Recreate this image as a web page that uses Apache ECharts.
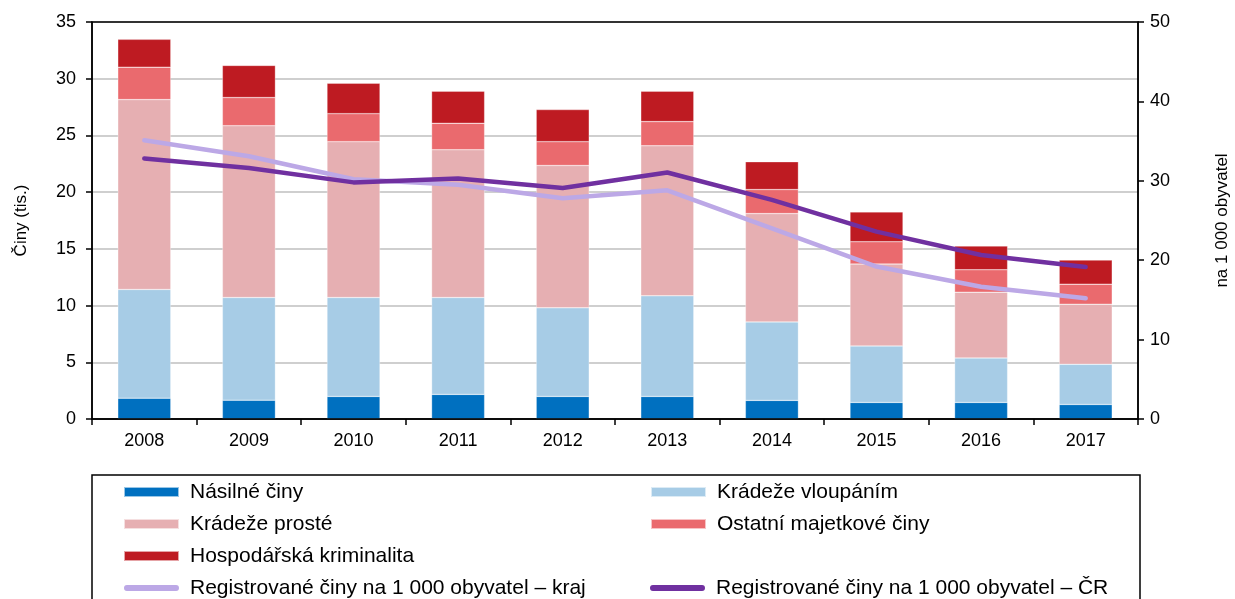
<!DOCTYPE html>
<html>
<head>
<meta charset="utf-8">
<script src="https://cdn.jsdelivr.net/npm/echarts@6/dist/echarts.min.js"></script>
<style>
  html, body { margin: 0; padding: 0; background: #fff; }
  #chart { width: 1235px; height: 599px; }
</style>
</head>
<body>
<div id="chart"></div>
<script>
var years = ['2008', '2009', '2010', '2011', '2012', '2013', '2014', '2015', '2016', '2017'];
// tis. činů
var nasilne = [1.84, 1.66, 1.99, 2.17, 1.99, 1.99, 1.64, 1.46, 1.46, 1.28];
var vloupani = [9.58, 9.05, 8.72, 8.54, 7.81, 8.87, 6.92, 4.98, 3.92, 3.54];
var proste = [16.74, 15.15, 13.74, 13.03, 12.55, 13.23, 9.55, 7.22, 5.80, 5.30];
var ostatni = [2.86, 2.48, 2.47, 2.33, 2.10, 2.13, 2.12, 1.97, 1.98, 1.77];
var hospodarska = [2.45, 2.83, 2.68, 2.83, 2.83, 2.68, 2.45, 2.63, 2.09, 2.12];
// na 1 000 obyvatel
var naObyvKraj = [35.1, 33.1, 30.2, 29.5, 27.8, 28.8, 24.0, 19.2, 16.65, 15.2];
var naObyvCR = [32.8, 31.6, 29.8, 30.3, 29.1, 31.05, 27.6, 23.6, 20.65, 19.14];

var font = 'Liberation Sans, Arial, sans-serif';
var lineIcon = 'path://M3,0 h50 a3,3 0 0 1 0,6 h-50 a3,3 0 0 1 0,-6 Z';

function barSeries(name, data, color) {
  return {
    name: name,
    type: 'bar',
    stack: 'cin',
    data: data,
    barWidth: 53,
    itemStyle: { color: color, borderColor: 'rgba(255,255,255,0.6)', borderWidth: 0.5 }
  };
}

function lineSeries(name, data, color) {
  return {
    name: name,
    type: 'line',
    yAxisIndex: 1,
    data: data,
    symbol: 'none',
    lineStyle: { color: color, width: 4.5, cap: 'round', join: 'round' },
    itemStyle: { color: color },
    z: 5
  };
}

var legendBase = {
  orient: 'vertical',
  icon: 'rect',
  itemWidth: 55,
  itemHeight: 10,
  itemGap: 10,
  selectedMode: false,
  textStyle: { fontFamily: font, fontSize: 21, color: '#000', lineHeight: 22, padding: [0, 0, 0, 6] },
  padding: 0
};

var myChart = echarts.init(document.getElementById('chart'));
var option = {
  animation: false,
  textStyle: { fontFamily: font },
  grid: {
    left: 92, right: 97, top: 22, bottom: 180,
    outerBoundsMode: 'none',
    containLabel: false
  },
  legend: [
    Object.assign({}, legendBase, {
      left: 123, top: 481,
      data: ['Násilné činy', 'Krádeže prosté', 'Hospodářská kriminalita',
        { name: 'Registrované činy na 1 000 obyvatel – kraj', icon: lineIcon }]
    }),
    Object.assign({}, legendBase, {
      left: 650, top: 481,
      data: ['Krádeže vloupáním', 'Ostatní majetkové činy']
    }),
    Object.assign({}, legendBase, {
      left: 650, top: 577,
      data: [{ name: 'Registrované činy na 1 000 obyvatel – ČR', icon: lineIcon }]
    })
  ],
  graphic: [
    {
      type: 'rect',
      shape: { x: 92, y: 22, width: 1046, height: 397 },
      style: { fill: 'none', stroke: '#000', lineWidth: 1.5 },
      silent: true, z: 10
    },
    {
      type: 'rect',
      shape: { x: 92, y: 475, width: 1048, height: 140 },
      style: { fill: 'none', stroke: '#000', lineWidth: 1.5 },
      silent: true
    }
  ],
  xAxis: {
    type: 'category',
    data: years,
    axisLine: { lineStyle: { color: '#000', width: 1.5 } },
    axisTick: { show: true, alignWithLabel: false, length: 6, lineStyle: { color: '#000', width: 1.5 } },
    axisLabel: { fontSize: 18, color: '#000', margin: 13 }
  },
  yAxis: [
    {
      type: 'value',
      min: 0, max: 35, interval: 5,
      name: 'Činy (tis.)',
      nameLocation: 'middle',
      nameGap: 62,
      nameTextStyle: { fontSize: 17, color: '#000' },
      axisLine: { show: true, lineStyle: { color: '#000', width: 1.5 } },
      axisTick: { show: true, length: 6, lineStyle: { color: '#000', width: 1.5 } },
      axisLabel: { fontSize: 18, color: '#000', margin: 16 },
      splitLine: { lineStyle: { color: '#BFBFBF', width: 1.5 } }
    },
    {
      type: 'value',
      min: 0, max: 50, interval: 10,
      name: 'na 1 000 obyvatel',
      nameLocation: 'middle',
      nameGap: 76,
      nameRotate: 90,
      nameTextStyle: { fontSize: 17, color: '#000' },
      axisLine: { show: true, lineStyle: { color: '#000', width: 1.5 } },
      axisTick: { show: true, length: 6, lineStyle: { color: '#000', width: 1.5 } },
      axisLabel: { fontSize: 18, color: '#000', margin: 12 },
      splitLine: { show: false }
    }
  ],
  series: [
    barSeries('Násilné činy', nasilne, '#0070C0'),
    barSeries('Krádeže vloupáním', vloupani, '#A7CCE6'),
    barSeries('Krádeže prosté', proste, '#E6AFB2'),
    barSeries('Ostatní majetkové činy', ostatni, '#EA6A6E'),
    barSeries('Hospodářská kriminalita', hospodarska, '#BE1B22'),
    lineSeries('Registrované činy na 1 000 obyvatel – kraj', naObyvKraj, '#BCA8E6'),
    lineSeries('Registrované činy na 1 000 obyvatel – ČR', naObyvCR, '#7030A0')
  ]
};
myChart.setOption(option);
</script>
</body>
</html>
